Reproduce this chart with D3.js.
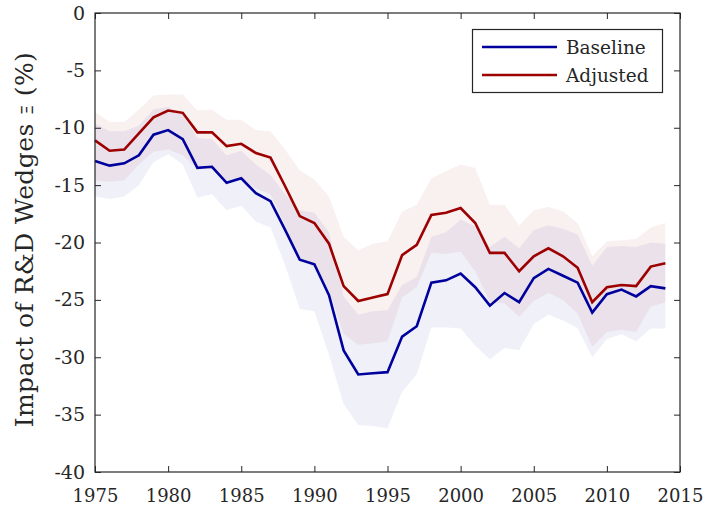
<!DOCTYPE html>
<html>
<head>
<meta charset="utf-8">
<script src="https://cdn.jsdelivr.net/npm/d3@7"></script>
<style>
    body { margin: 0; background: #fff; }
    svg { display: block; }
    svg text { font-family: 'DejaVu Serif', serif; fill: #262626; }
</style>
</head>
<body>
<svg id="chart" width="703" height="512"></svg>
<script>
const years = [1975, 1976, 1977, 1978, 1979, 1980, 1981, 1982, 1983, 1984,
    1985, 1986, 1987, 1988, 1989, 1990, 1991, 1992, 1993, 1994,
    1995, 1996, 1997, 1998, 1999, 2000, 2001, 2002, 2003, 2004,
    2005, 2006, 2007, 2008, 2009, 2010, 2011, 2012, 2013, 2014]

const baseline = [-12.9, -13.3, -13.1, -12.4, -10.6, -10.2, -11.0, -13.5, -13.4, -14.8,
    -14.4, -15.7, -16.4, -18.9, -21.5, -21.9, -24.6, -29.4, -31.5, -31.4,
    -31.3, -28.2, -27.3, -23.5, -23.3, -22.7, -23.9, -25.5, -24.4, -25.2,
    -23.1, -22.3, -22.9, -23.5, -26.1, -24.5, -24.1, -24.7, -23.8, -24.0]
const baselineLow = [-16.0, -16.2, -16.0, -15.0, -13.0, -12.3, -13.2, -16.1, -15.8, -17.2,
    -16.8, -18.2, -18.7, -22.0, -25.8, -26.0, -29.8, -34.1, -35.9, -36.0,
    -36.2, -33.0, -31.5, -27.4, -27.4, -27.5, -29.0, -30.2, -29.2, -29.4,
    -27.1, -26.3, -26.8, -27.5, -30.0, -28.4, -28.0, -28.6, -27.5, -27.5]
const baselineHigh = [-9.6, -10.3, -10.3, -9.8, -8.4, -8.2, -8.8, -10.9, -11.0, -12.4,
    -12.0, -13.2, -14.1, -15.8, -17.2, -17.4, -19.1, -24.7, -26.3, -26.0,
    -25.9, -23.7, -23.0, -19.5, -19.1, -18.0, -18.6, -20.4, -19.5, -20.5,
    -18.9, -18.5, -18.8, -19.3, -22.0, -20.4, -20.3, -20.4, -20.0, -20.1]

const adjusted = [-11.1, -12.0, -11.9, -10.5, -9.1, -8.5, -8.7, -10.4, -10.4, -11.6,
    -11.4, -12.2, -12.6, -15.1, -17.7, -18.3, -20.1, -23.8, -25.1, -24.8,
    -24.5, -21.1, -20.2, -17.6, -17.4, -17.0, -18.3, -20.9, -20.9, -22.5,
    -21.2, -20.5, -21.2, -22.2, -25.2, -23.9, -23.7, -23.8, -22.1, -21.8]
const adjustedLow = [-14.6, -14.7, -14.6, -13.2, -12.1, -11.9, -12.4, -13.6, -13.6, -14.6,
    -14.4, -15.3, -15.8, -18.5, -21.5, -22.2, -24.2, -28.0, -28.9, -28.8,
    -28.6, -24.8, -23.9, -20.9, -21.0, -20.8, -22.5, -25.2, -25.3, -26.5,
    -25.1, -24.4, -25.0, -26.2, -29.1, -27.8, -27.6, -27.8, -25.6, -25.2]
const adjustedHigh = [-8.6, -9.5, -9.5, -8.4, -7.2, -7.1, -7.1, -8.5, -8.4, -9.3,
    -9.3, -10.2, -10.3, -11.9, -13.7, -14.5, -16.0, -19.5, -20.7, -20.1,
    -19.9, -17.3, -16.7, -14.4, -13.8, -13.2, -13.5, -16.7, -16.7, -18.5,
    -17.2, -16.9, -17.3, -18.3, -21.2, -19.9, -19.8, -19.7, -18.7, -18.3]

const xTicks = [1975, 1980, 1985, 1990, 1995, 2000, 2005, 2010, 2015]
const yTicks = [0, -5, -10, -15, -20, -25, -30, -35, -40]

const series = [
    {name: 'Baseline', color: '#00009c', values: baseline, low: baselineLow, high: baselineHigh},
    {name: 'Adjusted', color: '#9c0000', values: adjusted, low: adjustedLow, high: adjustedHigh}
]

const svg = d3.select('#chart')
const plotLeft = 95, plotRight = 680, plotTop = 13, plotBottom = 472
const axisColor = '#262626'

const x = d3.scaleLinear().domain([1975, 2015]).range([plotLeft, plotRight])
const y = d3.scaleLinear().domain([-40, 0]).range([plotBottom, plotTop])

const rows = s => years.map((year, i) => ({year, value: s.values[i], low: s.low[i], high: s.high[i]}))

// confidence bands first, then the lines on top
const area = d3.area()
    .x(d => x(d.year))
    .y0(d => y(d.low))
    .y1(d => y(d.high))

svg.selectAll('path.band')
    .data(series)
    .enter()
    .append('path')
    .classed('band', true)
    .attr('d', s => area(rows(s)))
    .style('fill', s => s.color)
    .style('fill-opacity', 0.06)

const line = d3.line()
    .x(d => x(d.year))
    .y(d => y(d.value))

svg.selectAll('path.series')
    .data(series)
    .enter()
    .append('path')
    .classed('series', true)
    .attr('d', s => line(rows(s)))
    .style('fill', 'none')
    .style('stroke', s => s.color)
    .style('stroke-width', 2.6)
    .style('stroke-linejoin', 'miter')

// axes, ticks pointing inward on all four sides
const styleAxis = g => {
    g.attr('font-family', null).attr('font-size', 18)
    g.select('.domain').remove()
    g.selectAll('.tick line').attr('stroke', axisColor)
    g.selectAll('.tick text').attr('fill', axisColor)
}

svg.append('g')
    .attr('transform', `translate(0,${plotBottom})`)
    .call(d3.axisBottom(x).tickValues(xTicks).tickFormat(d => d).tickSize(-6).tickPadding(17))
    .call(styleAxis)

svg.append('g')
    .attr('transform', `translate(${plotLeft},0)`)
    .call(d3.axisLeft(y).tickValues(yTicks).tickFormat(d => String(d)).tickSize(-6).tickPadding(10))
    .call(styleAxis)
    .selectAll('.tick text').attr('font-size', 19)

svg.append('g')
    .attr('transform', `translate(0,${plotTop})`)
    .call(d3.axisTop(x).tickValues(xTicks).tickFormat('').tickSize(-6))
    .call(styleAxis)

svg.append('g')
    .attr('transform', `translate(${plotRight},0)`)
    .call(d3.axisRight(y).tickValues(yTicks).tickFormat('').tickSize(-6))
    .call(styleAxis)

svg.append('rect')
    .attr('x', plotLeft)
    .attr('y', plotTop)
    .attr('width', plotRight - plotLeft)
    .attr('height', plotBottom - plotTop)
    .style('fill', 'none')
    .style('stroke', axisColor)
    .style('stroke-width', 1.2)

// y label
const yLabel = svg.append('text')
    .attr('transform', `translate(33,${(plotTop + plotBottom) / 2 - 3}) rotate(-90)`)
    .attr('text-anchor', 'middle')
    .attr('font-size', 25)
    .style('letter-spacing', '0.4px')
yLabel.append('tspan').text('Impact of R&D Wedges ')
yLabel.append('tspan').attr('font-size', 16).attr('font-family', 'DejaVu Sans').text('Ξ')
yLabel.append('tspan').text(' (%)')

// legend
const legend = svg.append('g')
legend.append('rect')
    .attr('x', 472.5)
    .attr('y', 29.5)
    .attr('width', 190)
    .attr('height', 63)
    .style('fill', '#fff')
    .style('stroke', axisColor)
    .style('stroke-width', 1.2)

const item = legend.selectAll('g.item')
    .data(series)
    .enter()
    .append('g')
    .classed('item', true)
    .attr('transform', (d, i) => `translate(0,${47 + i * 28})`)

item.append('line')
    .attr('x1', 482)
    .attr('x2', 557)
    .style('stroke', d => d.color)
    .style('stroke-width', 2.6)

item.append('text')
    .attr('x', 566)
    .attr('y', 7)
    .attr('font-size', 18.5)
    .text(d => d.name)
</script>
</body>
</html>
